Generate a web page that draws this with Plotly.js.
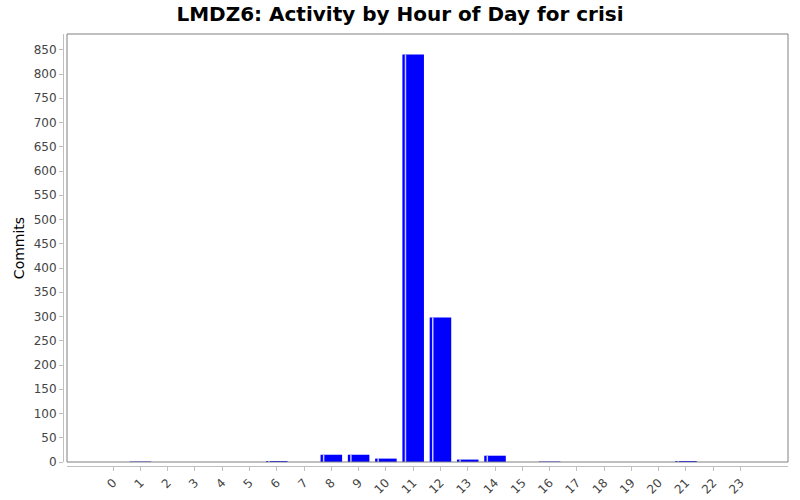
<!DOCTYPE html>
<html>
<head>
<meta charset="utf-8">
<script src="https://cdn.plot.ly/plotly-3.0.1.min.js"></script>
<style>html,body{margin:0;padding:0;background:#fff;} #graph{width:800px;height:500px;}</style>
</head>
<body>
<div id="graph"></div>
<script>
// Commits per hour of day
const hours = ["0","1","2","3","4","5","6","7","8","9","10","11","12","13","14","15","16","17","18","19","20","21","22","23"];
const commits = [0, 1, 0, 0, 0, 0, 2, 0, 15, 15, 7, 840, 298, 5, 13, 0, 1, 0, 0, 0, 0, 2, 0, 0];
const y_ticks = [0,50,100,150,200,250,300,350,400,450,500,550,600,650,700,750,800,850];

const x_dom0 = 4/725, y_dom0 = 4/432;
const font = "DejaVu Sans, sans-serif";

const traces = [
    {type: "bar", x: hours, y: commits, width: 0.79, marker: {color: "#0000ff", line: {width: 0}}, hoverinfo: "x+y"},
    // light strip near the left edge of each bar
    {type: "bar", x: hours, y: commits, width: 0.055, offset: -0.31, marker: {color: "#c8c8ff", line: {width: 0}}, hoverinfo: "skip"}];

const layout = {width: 800, height: 500, margin: {t: 34, l: 63, r: 12, b: 34}, paper_bgcolor: "#fff", plot_bgcolor: "#fff",
    showlegend: false, barmode: "overlay",
    title: {text: "LMDZ6: Activity by Hour of Day for crisi", x: 0.5, xanchor: "center", y: 0.972, yanchor: "middle", font: {family: font, size: 20, color: "#000", weight: "bold"}},
    xaxis: {type: "category", domain: [x_dom0, 1], anchor: "free", position: 0, range: [-1.69, 24.74], tickangle: -45,
        showline: true, linecolor: "#c0c0c0", linewidth: 1, ticks: "outside", ticklen: 4, tickcolor: "#c0c0c0",
        showgrid: false, zeroline: false, tickfont: {family: font, size: 12, color: "#444"}},
    yaxis: {domain: [y_dom0, 1], anchor: "free", position: 0, range: [0, 882.5], tickvals: y_ticks,
        showline: true, linecolor: "#c0c0c0", linewidth: 1, ticks: "outside", ticklen: 4, tickcolor: "#c0c0c0",
        showgrid: false, zeroline: false, tickfont: {family: font, size: 12, color: "#444"},
        title: {text: "Commits", standoff: 4, font: {family: font, size: 14, color: "#000"}}},
    shapes: [{type: "rect", xref: "paper", yref: "paper", x0: x_dom0, x1: 1, y0: y_dom0, y1: 1, line: {color: "#808080", width: 1}, layer: "above"}]};

Plotly.newPlot("graph", traces, layout, {displayModeBar: false, staticPlot: true});
</script>
</body>
</html>
